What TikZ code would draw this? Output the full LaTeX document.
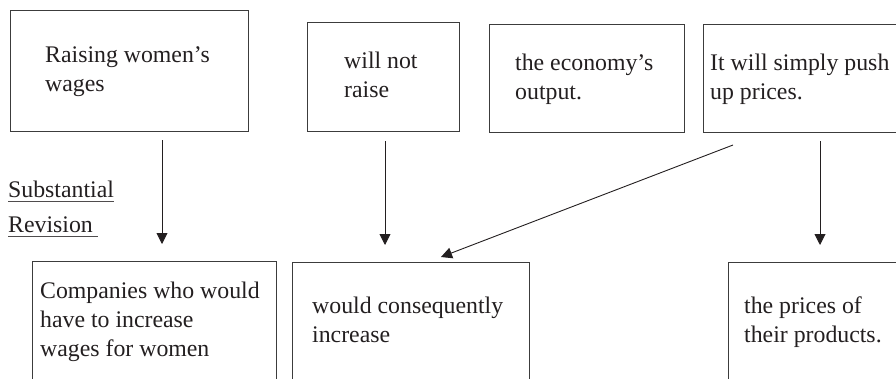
\documentclass[tikz,border=0pt]{standalone}
\usepackage{fontspec}
\setmainfont{Liberation Serif}
\usetikzlibrary{arrows.meta}
\definecolor{ink}{HTML}{231F20}
\definecolor{frame}{HTML}{3C3C3C}
\begin{document}
\begin{tikzpicture}[x=1pt,y=-1pt,
  box/.style={draw=frame,line width=1pt,rectangle,inner sep=0pt,anchor=north west},
  txt/.style={inner sep=0pt,anchor=base west,align=left,text=ink,
    font=\fontsize{23.8}{28.6}\selectfont},
  link/.style={draw=ink,line width=0.9pt,-{Triangle[width=11pt,length=11pt]}}]
\useasboundingbox (0,0) rectangle (896,378);
\clip (0,0) rectangle (896,378);

% upper row of boxes
\node[box,minimum width=238pt,minimum height=121pt] (b1) at (10,10) {};
\node[box,minimum width=152pt,minimum height=109pt] (b2) at (307,22) {};
\node[box,minimum width=195pt,minimum height=108pt] (b3) at (489,24) {};
\node[box,minimum width=200pt,minimum height=108pt] (b4) at (703,24) {};

% lower row of boxes (running past the page edge)
\node[box,minimum width=244pt,minimum height=160pt] (c1) at (32,261) {};
\node[box,minimum width=237pt,minimum height=160pt] (c2) at (292,262) {};
\node[box,minimum width=200pt,minimum height=160pt] (c3) at (728,262) {};

% box texts (positioned by the baseline of their last line)
\node[txt] (t1) at (45,91) {Raising women’s\\wages};
\node[txt] (t2) at (344,97) {will not\\raise};
\node[txt] (t3) at (515,99) {the economy’s\\output.};
\node[txt] (t4) at (710,99) {It will simply push\\up prices.};
\node[txt] (u1) at (40,356) {Companies who would\\have to increase\\wages for women};
\node[txt] (u2) at (312,342) {would consequently\\increase};
\node[txt] (u3) at (744,342) {the prices of\\their products.};

% side note
\node[txt] (sub) at (8,197) {Substantial};
\node[txt] (rev) at (8,232) {Revision};
\draw[draw=ink!80,line width=1pt] ([yshift=-4pt]sub.base west) -- ([yshift=-4pt]sub.base east);
\draw[draw=ink!80,line width=1pt] ([yshift=-4pt]rev.base west) -- ([xshift=5pt,yshift=-4pt]rev.base east);

% connector end points
\coordinate (a1s) at (162,140);
\coordinate (a1e) at (162,244);
\coordinate (a2s) at (385,141);
\coordinate (a2e) at (385,245);
\coordinate (a3s) at (733,145);
\coordinate (a3e) at (441,257);
\coordinate (a4s) at (820,141);
\coordinate (a4e) at (820,245);

\draw[link] (a1s) -- (a1e);
\draw[link] (a2s) -- (a2e);
\draw[link] (a3s) -- (a3e);
\draw[link] (a4s) -- (a4e);
\end{tikzpicture}
\end{document}
